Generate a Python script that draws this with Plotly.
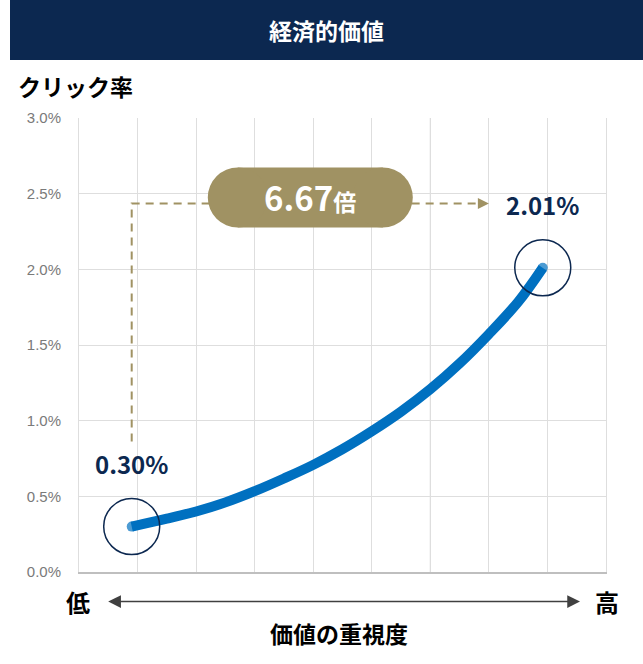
import plotly.graph_objects as go

# データ
x_vals = [0.90, 1.50, 2.00, 2.50, 3.00, 3.50, 4.00, 4.50, 5.00, 5.50, 6.00, 6.50, 7.00, 7.50, 7.92]
ctr_vals = [0.30, 0.352, 0.40, 0.46, 0.534, 0.618, 0.708, 0.812, 0.93, 1.06, 1.208, 1.378, 1.572, 1.785, 2.01]
y_ticks = [0.0, 0.5, 1.0, 1.5, 2.0, 2.5, 3.0]
ratio_label = "6.67"

NAVY = "#0c2850"
BLUE = "#0070c0"
KHAKI = "#a09263"
JP = "Noto Sans CJK JP"

W, H = 643, 664
L, R, T, B = 79, 37, 118, 92
PW, PH = W - L - R, H - T - B


def px(xp):
    return (xp - L) / PW


def py(yp):
    return (H - B - yp) / PH


fig = go.Figure()

sizes = [0] * len(x_vals)
sizes[0] = sizes[-1] = 10
fig.add_trace(go.Scatter(
    x=x_vals, y=ctr_vals, mode="lines+markers",
    line=dict(color=BLUE, width=10, shape="spline", smoothing=1),
    marker=dict(color=BLUE, size=sizes, line=dict(width=0)),
    hoverinfo="skip", showlegend=False,
))

shapes = []
# ヘッダー帯
shapes.append(dict(type="rect", xref="paper", yref="paper",
                   x0=px(10), x1=px(643), y0=py(60), y1=py(0),
                   fillcolor=NAVY, line=dict(width=0), layer="below"))
# 始点・終点の円
for xi, yi in [(x_vals[0], ctr_vals[0]), (x_vals[-1], ctr_vals[-1])]:
    shapes.append(dict(type="circle", xref="x", yref="y",
                       xsizemode="pixel", ysizemode="pixel",
                       xanchor=xi, yanchor=yi, x0=-28, x1=28, y0=-28, y1=28,
                       line=dict(color=NAVY, width=1.5)))

# 点線(始点から上、右へ)
dash_y = 2.435
dash_end = 6.81
shapes.append(dict(type="path", xref="x", yref="y",
                   path=f"M{x_vals[0]},0.862 L{x_vals[0]},{dash_y} L{dash_end},{dash_y}",
                   line=dict(color=KHAKI, width=2, dash="8px,6px")))

# ピル型ラベル
pill_x, pill_y = 3.95, 2.475
for x0, x1, kind in [(-72.5, 72.5, "rect"), (-102.5, -42.5, "circle"), (42.5, 102.5, "circle")]:
    shapes.append(dict(type=kind, xref="x", yref="y",
                       xsizemode="pixel", ysizemode="pixel",
                       xanchor=pill_x, yanchor=pill_y, x0=x0, x1=x1, y0=-30, y1=30,
                       fillcolor=KHAKI, line=dict(width=0)))

# 格子線のうち少し濃い線
shapes.append(dict(type="line", xref="x", yref="paper", x0=6, x1=6, y0=0, y1=1,
                   line=dict(color="#c8c8c8", width=1), layer="below"))


def label(text, xp, yp, size, color="black"):
    return dict(text=text, x=px(xp), y=py(yp), xref="paper", yref="paper",
                xanchor="center", yanchor="middle", showarrow=False,
                font=dict(family=JP, size=size, color=color, weight="bold"))


annotations = [
    label("経済的価値", 326.5, 30, 23, "white"),
    dict(text="クリック率", x=px(16), y=py(86), xref="paper", yref="paper",
         xanchor="left", yanchor="middle", showarrow=False,
         font=dict(family=JP, size=23, color="black", weight="bold")),
    label("低", 78, 601, 24),
    label("高", 606.7, 601, 24),
    label("価値の重視度", 339, 633, 23),
    # 横軸の両矢印
    dict(text="", x=px(580), y=py(601.5), xref="paper", yref="paper",
         ax=-473.3, ay=0, axref="pixel", ayref="pixel",
         showarrow=True, arrowside="end+start", arrowhead=2, startarrowhead=2,
         arrowsize=1.7, startarrowsize=1.7, arrowwidth=1.5, arrowcolor="#404040"),
    # 点線の矢じり
    dict(text="", x=7.0, y=dash_y, xref="x", yref="y", ax=-11, ay=0,
         showarrow=True, arrowhead=2, arrowsize=1.1, arrowwidth=2, arrowcolor=KHAKI),
    # 倍率
    dict(text=f"{ratio_label}<span style='font-size:23px'>倍</span>", x=pill_x, y=pill_y,
         xref="x", yref="y", showarrow=False, xanchor="center", yanchor="middle",
         font=dict(family=JP, size=33, color="white", weight="bold")),
]
for xi, yi in [(x_vals[0], ctr_vals[0]), (x_vals[-1], ctr_vals[-1])]:
    annotations.append(dict(text=f"{yi:.2f}%", x=xi, y=yi, xref="x", yref="y",
                            yshift=63, showarrow=False, xanchor="center", yanchor="middle",
                            font=dict(family=JP, size=24, color=NAVY, weight="bold")))

fig.update_layout(
    width=W, height=H,
    margin=dict(l=L, r=R, t=T, b=B),
    paper_bgcolor="white", plot_bgcolor="white",
    shapes=shapes, annotations=annotations,
    hovermode=False,
    xaxis=dict(range=[0, 9], dtick=1, tick0=0, showticklabels=False,
               showgrid=True, gridcolor="#dedede", gridwidth=1, zeroline=False,
               showline=True, linecolor="#bfbfbf", linewidth=1.5, fixedrange=True),
    yaxis=dict(range=[0, 3.0], tickvals=y_ticks, ticktext=[f"{v:.1f}%" for v in y_ticks],
               showgrid=True, gridcolor="#dedede", gridwidth=1, zeroline=False,
               showline=True, linecolor="#dedede", mirror=True,
               ticklabelstandoff=14, fixedrange=True,
               tickfont=dict(family="Liberation Sans Narrow, Liberation Sans", size=15,
                             color="#7a7a7a")),
)

fig.write_html("out.html", config={"displayModeBar": False},
               post_script="document.body.style.margin='0';")
